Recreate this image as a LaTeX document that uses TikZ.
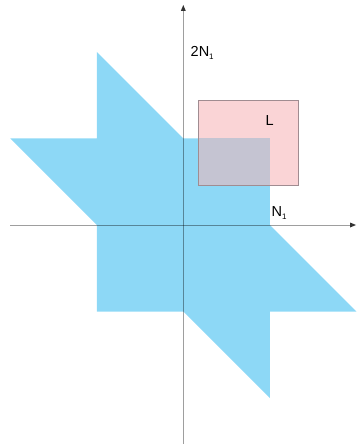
\documentclass[tikz,border=0pt]{standalone}
\usepackage{fontspec}
\setmainfont{Liberation Sans}
\definecolor{skyfill}{RGB}{141,216,246}
\definecolor{pinkfill}{RGB}{250,212,214}
\definecolor{mixfill}{RGB}{197,196,210}
\definecolor{rectedge}{RGB}{160,140,145}
\tikzset{
  axisline/.style={draw=black, opacity=0.38, line width=0.9bp},
  tipmark/.style={fill=black!80, draw=none},
  lbl/.style={inner sep=0pt, anchor=base west, font=\fontsize{14.5bp}{16bp}\selectfont},
}
\newcommand{\subone}{\textsubscript{\fontsize{8bp}{9bp}\selectfont 1}}
\begin{document}
\begin{tikzpicture}[x=1bp,y=-1bp]
\useasboundingbox (0,0) rectangle (356,444);
% blue star-like region
\fill[skyfill] (96.8,52) -- (183.3,138.5) -- (269.8,138.5) -- (269.8,225)
  -- (356.3,311.5) -- (269.8,311.5) -- (269.8,398) -- (183.3,311.5)
  -- (96.8,311.5) -- (96.8,225) -- (10.3,138.5) -- (96.8,138.5) -- cycle;
% pink rectangle L
\fill[pinkfill] (198.3,100) rectangle (298.3,185.7);
\fill[mixfill] (198.3,138.5) rectangle (269.8,185.7);
\draw[rectedge, line width=0.9bp] (198.3,100) rectangle (298.3,185.7);
% axes
\coordinate (xl) at (10,225);
\coordinate (xr) at (352,225);
\coordinate (yb) at (183.3,444);
\coordinate (yt) at (183.3,9);
\draw[axisline] (xl) -- (xr);
\draw[axisline] (yb) -- (yt);
\fill[tipmark] (356,225) -- (350,222.5) -- (350,227.5) -- cycle;
\fill[tipmark] (183.3,5) -- (180.8,11) -- (185.8,11) -- cycle;
% labels
\node[lbl] (ty) at (190.5,57) {2N\subone};
\node[lbl] (tx) at (271.5,217) {N\subone};
\node[lbl] (tl) at (265.5,126) {L};
\end{tikzpicture}
\end{document}
